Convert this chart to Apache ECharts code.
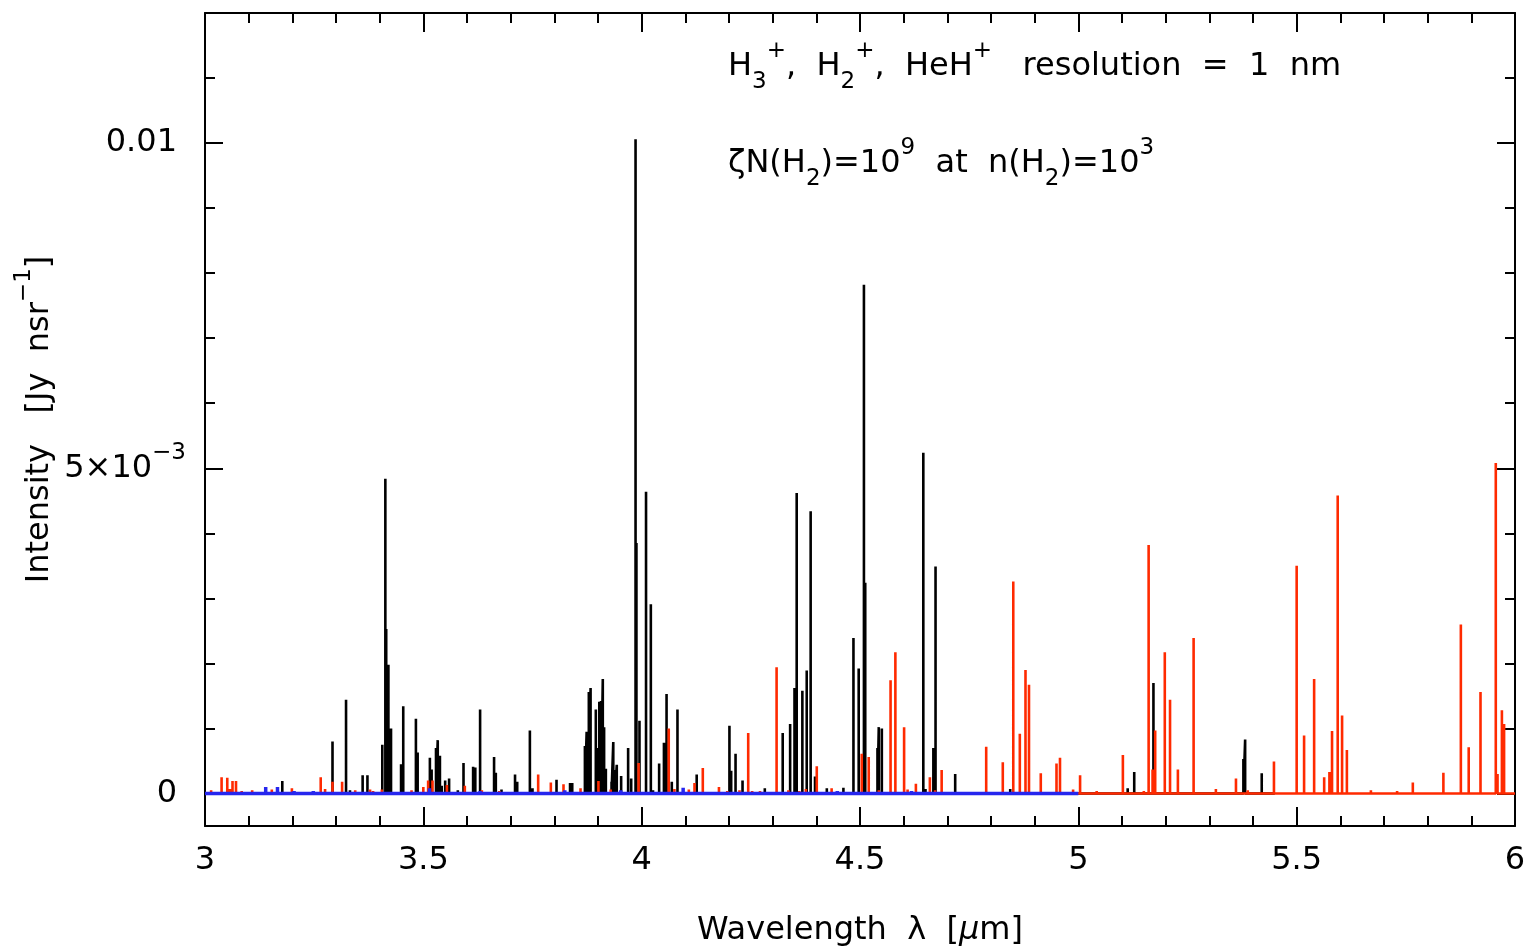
<!DOCTYPE html>
<html><head><meta charset="utf-8">
<script src="https://cdn.jsdelivr.net/npm/echarts@6/dist/echarts.min.js"></script>
<style>html,body{margin:0;padding:0;background:#fff}#c{width:1527px;height:950px}</style>
</head><body><div id="c"></div>
<script>
// ---- Data (wavelength in micron, intensity in Jy nsr^-1) ----
const blackWavelengths = [3.177,3.292,3.323,3.332,3.361,3.372,3.406,3.413,3.415,3.420,3.426,3.449,3.454,3.483,3.487,3.515,3.519,3.529,3.533,3.538,3.542,3.550,3.559,3.579,3.592,3.614,3.619,3.630,3.662,3.666,3.679,3.702,3.710,3.715,3.744,3.750,3.805,3.836,3.841,3.870,3.874,3.879,3.883,3.895,3.898,3.903,3.907,3.911,3.914,3.918,3.931,3.935,3.939,3.943,3.953,3.969,3.976,3.986,3.988,3.995,4.010,4.021,4.026,4.040,4.051,4.057,4.069,4.082,4.126,4.201,4.205,4.215,4.231,4.282,4.323,4.340,4.350,4.355,4.368,4.378,4.387,4.397,4.424,4.462,4.485,4.497,4.509,4.512,4.540,4.543,4.550,4.645,4.650,4.668,4.673,4.718,4.844,5.113,5.128,5.172,5.378,5.382,5.420];
const blackIntensity = [0.00019,0.0008,0.00144,0.00005,0.00028,0.00028,0.00075,0.00484,0.00253,0.00198,0.001,0.00045,0.00134,0.00115,0.00063,0.00055,0.00037,0.0007,0.00082,0.00058,0.00012,0.0002,0.00023,0.00005,0.00047,0.00041,0.0004,0.00129,0.00056,0.00032,0.00006,0.00003,0.00029,0.00018,0.00097,0.00008,0.00021,0.00016,0.00016,0.00073,0.00095,0.00156,0.00162,0.00129,0.0007,0.00141,0.00142,0.00176,0.00102,0.00038,0.00018,0.00079,0.00036,0.00044,0.00027,0.0007,0.00023,0.01006,0.00385,0.00112,0.00464,0.00291,0.00005,0.00046,0.00078,0.00153,0.00018,0.00129,0.00029,0.00104,0.00035,0.00061,0.0002,0.00008,0.00093,0.00107,0.00162,0.00462,0.00158,0.00189,0.00434,0.00026,0.00008,0.00009,0.00239,0.00192,0.00782,0.00324,0.0007,0.00102,0.001,0.00524,0.00007,0.0007,0.00349,0.0003,0.00007,0.00008,0.00033,0.0017,0.00053,0.00083,0.00031];

const redWavelengths = [3.014,3.038,3.051,3.057,3.063,3.071,3.084,3.108,3.121,3.153,3.199,3.265,3.275,3.292,3.314,3.344,3.378,3.385,3.405,3.473,3.500,3.511,3.521,3.554,3.595,3.634,3.643,3.674,3.763,3.792,3.821,3.860,3.901,3.929,3.993,4.062,4.075,4.108,4.121,4.140,4.177,4.196,4.224,4.244,4.253,4.271,4.309,4.336,4.361,4.376,4.401,4.435,4.504,4.520,4.543,4.570,4.581,4.601,4.609,4.628,4.660,4.672,4.687,4.698,4.744,4.777,4.789,4.827,4.851,4.866,4.879,4.887,4.914,4.950,4.958,4.988,5.004,5.042,5.102,5.150,5.161,5.170,5.176,5.198,5.210,5.228,5.240,5.264,5.315,5.361,5.388,5.448,5.500,5.517,5.540,5.563,5.575,5.581,5.594,5.604,5.615,5.670,5.730,5.766,5.811,5.836,5.876,5.894,5.921,5.956,5.960,5.970,5.975];
const redIntensity = [0.00005,0.00025,0.00024,0.00007,0.00019,0.00019,0.00004,0.00005,0.00003,0.00006,0.00008,0.00025,0.00007,0.00018,0.00018,0.00005,0.00006,0.00004,0.00006,0.00005,0.0001,0.0002,0.0002,0.00013,0.00012,0.00005,0.00003,0.00004,0.00029,0.00017,0.00014,0.00008,0.00019,0.00006,0.00047,0.001,0.00007,0.00006,0.00016,0.00039,0.0001,0.00004,0.00005,0.00093,0.00004,0.00004,0.00194,0.00005,0.00004,0.00007,0.00042,0.00008,0.00061,0.00056,0.00005,0.00174,0.00217,0.00102,0.00006,0.00015,0.00025,0.00005,0.00036,0.00003,0.00002,0.00002,0.00072,0.00048,0.00326,0.00092,0.0019,0.00167,0.00031,0.00046,0.00055,0.00006,0.00028,0.00004,0.00059,0.00004,0.00382,0.00037,0.00097,0.00217,0.00144,0.00037,0.00003,0.00239,0.00007,0.00023,0.00005,0.00049,0.0035,0.00089,0.00176,0.00025,0.00033,0.00096,0.00458,0.0012,0.00067,0.00005,0.00004,0.00017,0.00002,0.00032,0.0026,0.00071,0.00156,0.00508,0.0003,0.00128,0.00107];

const blueWavelengths = [3.139,3.166,3.204,3.248,3.300,3.362,3.514,3.542,3.580,3.607,3.630,3.710,3.824,3.952,4.095,4.159,4.296,4.448,4.618];
const blueIntensity = [0.0001,0.0001,0.00004,0.00004,0.00002,0.00002,0.00008,0.00003,0.00003,0.00003,0.00004,0.00003,0.00005,0.00005,0.00009,0.00002,0.00002,0.00004,0.00004];

const blackRange = [3.0, 5.45];
const redRange = [3.0, 6.0];
const blueRange = [3.0, 5.0];

const xRange = [3, 6];
const yRange = [-0.0005, 0.012];
const yLabelValues = [0, 0.005, 0.01];
const yMajorTicks = [0, 0.005, 0.01];
const yMinorTicks = [0.001, 0.002, 0.003, 0.004, 0.006, 0.007, 0.008, 0.009, 0.011];

// ---- Helpers ----
function spikes(ws, vs, range) {
  const idx = ws.map((w, i) => i).sort((a, b) => ws[a] - ws[b]);
  const d = [[range[0], 0]];
  idx.forEach(i => { d.push([ws[i], 0], [ws[i], vs[i]], [ws[i], 0]); });
  d.push([range[1], 0]);
  return d;
}

const FONT = 'DejaVu Sans';
function rich(size) {
  const s = Math.round(size * 0.72);
  return {
    m: { fontSize: size, lineHeight: size + 22, fontFamily: FONT, color: '#000' },
    mp: { fontSize: size, lineHeight: size + 22, fontFamily: FONT, color: '#000', padding: [0, 9, 0, 0] },
    it: { fontSize: size, lineHeight: size + 22, fontFamily: FONT, fontStyle: 'italic', color: '#000' },
    sup: { fontSize: s, lineHeight: s - 2, fontFamily: FONT, verticalAlign: 'top', color: '#000' },
    sub: { fontSize: s, lineHeight: s - 2, fontFamily: FONT, verticalAlign: 'bottom', color: '#000' }
  };
}
const black = '#000';
const tickStyle = { color: black, width: 2 };

function xAx(pos, showLabels) {
  return {
    type: 'value', position: pos, min: xRange[0], max: xRange[1], interval: 0.5,
    axisLine: { show: true, onZero: false, lineStyle: { color: black, width: 2 } },
    axisTick: { show: true, inside: true, length: 19, lineStyle: tickStyle },
    minorTick: { show: true, splitNumber: 5, length: 10, lineStyle: tickStyle },
    splitLine: { show: false }, minorSplitLine: { show: false },
    axisLabel: { show: showLabels, fontSize: 32, fontFamily: FONT, color: black, margin: 19,
      showMinLabel: true, showMaxLabel: true, formatter: v => String(v) },
    name: showLabels ? '{m|Wavelength  λ  [}{it|μ}{m|m]}' : '',
    nameLocation: 'middle', nameGap: 78, nameMoveOverlap: false,
    nameTextStyle: { rich: rich(32) }
  };
}
function yAx(pos, ticks, len, showLabels, showLine, withName) {
  return {
    type: 'value', position: pos, min: yRange[0], max: yRange[1],
    axisLine: { show: showLine, onZero: false, lineStyle: { color: black, width: 2 } },
    axisTick: { show: true, inside: true, length: len, lineStyle: tickStyle, customValues: ticks },
    splitLine: { show: false },
    axisLabel: showLabels ? {
      show: true, customValues: yLabelValues, margin: 19,
      formatter: v => {
        if (Math.abs(v) < 1e-9) return '{mp|0}';
        if (Math.abs(v - 0.005) < 1e-9) return '{m|5×10}{sup|−3}';
        return '{mp|0.01}';
      },
      rich: rich(32)
    } : { show: false },
    name: withName ? '{m|Intensity   [Jy  nsr}{sup|−1}{m|]}' : '',
    nameLocation: 'middle', nameRotate: 90, nameGap: 138, nameMoveOverlap: false,
    nameTextStyle: { rich: rich(32) }
  };
}

const chart = echarts.init(document.getElementById('c'), null, { renderer: 'canvas' });
chart.setOption({
  animation: false,
  backgroundColor: '#fff',
  grid: { left: 205, right: 12, top: 13, bottom: 124, containLabel: false, outerBoundsMode: 'none' },
  xAxis: [xAx('bottom', true), xAx('top', false)],
  yAxis: [
    yAx('left', yMajorTicks, 18, true, true, true),
    yAx('left', yMinorTicks, 10, false, false, false),
    yAx('right', yMajorTicks, 18, false, true, false),
    yAx('right', yMinorTicks, 10, false, false, false)
  ],
  graphic: [
    { type: 'text', left: 728, top: 40, silent: true,
      style: { text: '{m|H}{sub|3}{sup|+}{m|,  H}{sub|2}{sup|+}{m|,  HeH}{sup|+}{m|   resolution  =  1  nm}', rich: rich(32) } },
    { type: 'text', left: 728, top: 137, silent: true,
      style: { text: '{m|ζN(H}{sub|2}{m|)=10}{sup|9}{m|  at  n(H}{sub|2}{m|)=10}{sup|3}', rich: rich(32) } }
  ],
  series: [
    { name: 'black', type: 'line', data: spikes(blackWavelengths, blackIntensity, blackRange),
      showSymbol: false, symbol: 'none', z: 2, silent: true,
      lineStyle: { color: '#000', width: 2.6, join: 'bevel', cap: 'butt' } },
    { name: 'red', type: 'line', data: spikes(redWavelengths, redIntensity, redRange),
      showSymbol: false, symbol: 'none', z: 3, silent: true,
      lineStyle: { color: '#ff2a00', width: 2.6, join: 'bevel', cap: 'butt' } },
    { name: 'blue', type: 'line', data: spikes(blueWavelengths, blueIntensity, blueRange),
      showSymbol: false, symbol: 'none', z: 4, silent: true,
      lineStyle: { color: '#2626ee', width: 3.5, join: 'bevel', cap: 'butt' } }
  ]
});
</script>
</body></html>
